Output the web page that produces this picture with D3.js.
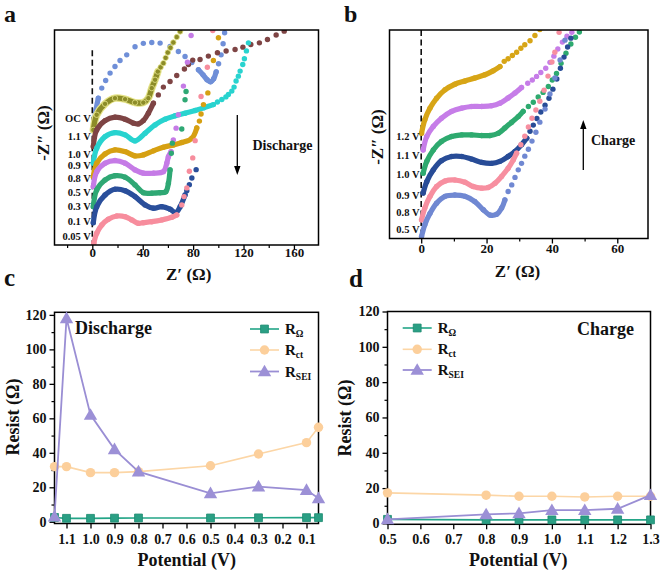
<!DOCTYPE html>
<html><head><meta charset="utf-8">
<script src="https://cdn.jsdelivr.net/npm/d3@7"></script>
<style>
body{margin:0;background:#fff;}
svg{display:block;}
text{font-family:"Liberation Serif","Times New Roman",serif;font-weight:bold;fill:#111;}
</style>
</head><body>
<svg id="fig" width="661" height="574"></svg>
<script>
// ---------------- DATA ----------------
// Panel a : Nyquist plots during discharge (Z', -Z'' in ohm, curves offset vertically)
const labelsA = ["OC V","1.1 V","1.0 V","0.9 V","0.8 V","0.5 V","0.3 V","0.1 V","0.05 V"];
const aOC_arc1 = [[1.6,96.7],[2.9,107.2],[4.8,116.5]];
const aOC_dots1 = [[7.5,124.5],[10.6,130.5],[14.1,136.4],[18.0,141.6],[22.0,146.4],[27.3,150.9],[33.9,157.3],[40.5,160.0],[47.2,160.7],[53.8,160.2],[61.7,157.5],[68.3,153.5],[73.6,149.6],[79.0,144.8]];
const aOC_arc2 = [[84.2,139.0],[87.9,135.0],[91.1,131.1],[93.9,129.5],[96.3,131.9],[98.3,137.4]];
const aOC_dots2 = [[100.2,143.8],[102.2,150.9],[103.8,159.7],[105.0,168.4]];
const a11_arc = [[0.8,91.3],[3.5,103.3],[10.1,112.0],[18.0,116.5],[26.0,115.7],[33.9,113.0],[40.5,113.0],[44.5,116.5],[47.2,124.5],[49.8,131.1],[52.0,137.6]];
const a11_dots = [[54.2,141.0],[56.4,144.3],[58.2,148.5],[59.9,152.7],[62.0,156.5],[64.3,160.7],[67.0,165.0],[69.7,169.4]];
const a10_arc = [[0.8,78.1],[3.5,91.3],[10.1,98.7],[18.0,101.4],[26.0,99.8],[32.6,96.7],[36.5,96.1],[40.5,98.7],[44.5,104.6],[48.5,112.5]];
const a10_dots = [[52.4,119.1],[56.4,125.3],[61.7,129.7],[67.0,134.5],[73.1,139.6],[76.3,143.2],[79.7,146.7],[85.5,147.2],[92.1,149.9],[99.3,152.5],[106.2,153.9],[113.3,155.1],[119.5,157.0],[125.8,159.1],[132.6,160.4],[139.0,163.1],[145.9,166.6],[152.3,169.7]];
const a09_arc = [[0.8,64.9],[3.5,76.8],[10.1,86.0],[18.0,89.2],[26.0,87.4],[33.9,82.6],[41.9,88.7],[49.8,95.3],[57.8,99.8],[65.7,102.5],[73.6,104.6],[81.6,106.7],[88.2,108.8],[96.1,111.4]];
const a09_dots = [[99.3,113.5],[102.8,115.4],[106.0,117.5],[108.0,119.4],[110.7,122.1],[112.5,125.3],[114.1,130.1],[115.9,134.0],[117.3,138.0],[119.4,143.2],[120.7,147.8],[122.3,154.0],[123.9,160.4]];
const a08_arc = [[0.8,54.2],[3.5,64.9],[10.1,72.3],[18.0,75.5],[26.0,74.1],[33.9,70.7],[40.5,71.5],[48.5,74.7],[56.4,77.6],[64.3,79.4],[71.0,81.3],[79.0,84.7],[82.9,92.9]];
const a08_dots = [[85.0,98.3],[86.3,104.0],[88.2,111.4],[91.7,120.7],[96.1,146.4],[100.1,164.4]];
const a05_arc = [[0.8,46.3],[3.5,58.2],[10.1,64.9],[18.0,67.0],[26.0,64.9],[33.9,59.6],[40.5,57.0],[48.5,57.0],[56.4,58.2],[59.1,64.9],[60.4,70.1],[62.5,74.1]];
const a05_dots = [[64.3,83.4],[66.5,92.7],[68.3,103.3],[72.3,126.1],[75.5,145.1],[78.4,166.2]];
const a03_arc = [[0.8,30.4],[3.5,43.7],[10.1,51.6],[18.0,55.0],[26.0,53.8],[33.9,47.7],[40.5,41.5],[47.2,41.1],[53.8,41.5],[58.3,42.3],[60.4,49.0],[61.7,59.6]];
const a03_dots = [[62.7,72.8],[63.5,80.8],[71.0,92.1],[73.6,115.2],[74.4,121.8]];
const a01_arc = [[0.8,17.7],[3.5,30.4],[10.1,39.7],[18.0,44.2],[26.0,43.1],[33.9,38.4],[41.9,31.8],[48.5,29.2],[55.1,30.4],[61.7,28.4],[66.2,25.7],[69.7,30.4],[73.6,39.7]];
const a01_dots = [[75.0,43.0],[77.0,47.9],[79.0,53.2],[82.4,59.8]];
const a005_arc = [[1.2,1.4],[3.5,9.3],[7.5,15.9],[12.7,20.4],[19.4,23.0],[26.0,22.5],[31.3,19.9],[36.5,17.2],[40.5,17.7],[47.2,18.5],[55.1,19.9],[63.1,22.0],[67.0,23.8]];
const a005_dots = [[71.0,31.8],[72.8,38.4],[75.0,45.3],[77.0,58.5],[79.7,69.1],[81.6,82.8],[86.3,117.8],[91.3,141.1],[95.6,170.2]];

// Panel b : Nyquist plots during charge
const labelsB = ["1.2 V","1.1 V","1.0 V","0.9 V","0.8 V","0.5 V"];
const b12_arc = [[0.1,32.2],[1.1,36.3],[2.7,39.9],[4.7,42.9],[7.3,45.5],[10.3,47.2],[13.4,48.2],[16.4,49.1],[19.5,50.1],[22.0,51.3],[24.1,52.6]];
const b12_dots = [[25.4,54.2],[26.6,55.0],[27.9,56.0],[29.2,57.0],[30.5,58.2],[31.7,59.3],[33.3,60.5],[34.8,62.1],[36.3,63.9]];
const b11_arc = [[0.6,27.1],[1.7,31.2],[3.7,34.3],[6.2,36.8],[9.3,38.9],[12.4,39.9],[15.4,40.4],[18.5,40.4],[21.5,40.6],[24.1,41.4],[26.6,43.0],[28.7,44.5],[30.7,46.2]];
const b11_dots = [[32.6,47.5],[34.0,48.5],[35.3,49.6],[36.6,50.8],[38.1,52.1],[39.4,53.9],[40.6,55.8],[41.8,58.0],[43.2,60.1],[44.6,61.9],[46.1,63.1]];
const b10_arc = [[0.6,20.0],[1.7,23.6],[3.7,27.1],[6.2,29.7],[9.3,31.2],[12.4,31.7],[15.4,31.7],[18.5,31.5],[21.0,31.5],[23.6,32.2],[25.6,33.8],[27.7,35.6],[29.7,37.3],[31.2,38.9]];
const b10_dots = [[32.8,40.4],[34.3,41.7],[35.8,43.3],[37.3,44.7],[38.9,46.5],[40.1,48.5],[41.4,50.5],[42.8,53.6],[44.3,56.7],[45.8,59.5],[47.2,61.6],[48.4,63.2]];
const b09_arc = [[0.6,13.9],[1.7,17.4],[3.7,21.0],[6.2,23.8],[9.3,25.1],[12.4,25.1],[15.4,24.3],[18.5,23.3],[21.5,23.0],[24.1,23.6],[26.6,25.1],[28.7,26.6],[30.7,28.7],[32.3,30.7]];
const b09_dots = [[33.3,32.8],[34.3,34.7],[35.4,36.7],[36.6,38.7],[37.9,40.8],[39.1,42.9],[40.3,45.7],[41.5,48.8],[42.6,52.1],[43.7,55.5],[44.8,58.6],[45.8,61.3]];
const b08_arc = [[0.1,5.7],[1.1,9.3],[2.7,12.9],[4.7,15.9],[7.3,17.6],[10.3,17.9],[13.4,17.2],[15.9,15.9],[18.5,15.4],[20.5,15.6],[22.6,16.9],[24.6,19.0],[26.6,21.5],[28.2,24.1],[29.2,26.1]];
const b08_dots = [[30.5,28.7],[31.7,31.3],[32.8,34.1],[33.9,36.8],[35.1,39.3],[36.3,42.0],[37.6,45.4],[38.8,49.7],[40.0,54.0],[40.9,57.0],[42.2,63.1]];
const b05_arc = [[0.1,0.6],[1.1,4.2],[2.7,7.7],[4.7,10.8],[7.3,12.9],[10.3,13.3],[13.4,12.9],[16.4,11.3],[19.0,8.8],[21.0,7.2],[23.1,7.4],[24.6,9.3],[25.6,11.8]];
const b05_dots = [[26.6,14.4],[27.7,16.4],[28.7,18.7],[29.7,21.0],[30.7,23.0],[31.7,25.2],[32.8,27.3],[33.9,29.8],[35.1,32.5],[36.3,35.6],[37.9,39.6],[39.4,44.2],[40.9,49.1],[42.5,54.6],[44.0,60.7]];

// Panel c : fitted resistances, discharge (first point = OC, drawn at 1.15 V)
const potC = [1.15,1.1,1.0,0.9,0.8,0.5,0.3,0.1,0.05];
const rOhmC = [2.5,2.0,2.0,2.1,2.2,2.2,2.3,2.4,2.4];
const rCtC  = [32.0,32.0,28.5,28.5,29.1,32.5,39.3,45.9,54.8];
const rSeiC = [3.0,118.0,62.0,42.0,29.1,16.5,20.4,18.4,13.6];
const ticksC = [1.1,1.0,0.9,0.8,0.7,0.6,0.5,0.4,0.3,0.2,0.1];

// Panel d : fitted resistances, charge
const potD = [0.5,0.8,0.9,1.0,1.1,1.2,1.3];
const rOhmD = [2.3,2.0,2.0,2.0,2.0,2.0,2.0];
const rCtD  = [17.3,16.0,15.4,15.4,15.0,15.4,15.4];
const rSeiD = [2.3,5.1,5.7,7.5,7.5,8.3,16.0];
const ticksD = [0.5,0.6,0.7,0.8,0.9,1.0,1.1,1.2,1.3];

const ticksR = [0,20,40,60,80,100,120];
const minorR = [10,30,50,70,90,110];
const ticksZA = [0,40,80,120,160], minorZA = [-20,20,60,100,140];
const ticksZB = [0,20,40,60], minorZB = [10,30,50];

// ---------------- DRAW ----------------
const svg = d3.select("#fig");
const defs = svg.append("defs");
const SERIF = '"Liberation Serif","Times New Roman",serif';

function clip(id, x0, y0, x1, y1){
  defs.append("clipPath").attr("id", id).append("rect")
    .attr("x", x0).attr("y", y0).attr("width", x1 - x0).attr("height", y1 - y0);
}

function bottomAxis(x, y0, major, minor, fmt, fs, base){
  const g = svg.append("g").attr("transform", `translate(0,${y0})`);
  g.call(d3.axisBottom(x).tickValues(major).tickSize(5).tickFormat(fmt));
  g.select(".domain").remove();
  g.selectAll(".tick line").attr("stroke", "#000").attr("stroke-width", 1.3);
  g.selectAll(".tick text").attr("y", base).attr("dy", 0).attr("fill", "#111")
    .style("font-family", SERIF).style("font-weight", "bold").style("font-size", fs + "px");
  if (minor) {
    const m = svg.append("g").attr("transform", `translate(0,${y0})`);
    m.call(d3.axisBottom(x).tickValues(minor).tickSize(3).tickFormat(""));
    m.select(".domain").remove();
    m.selectAll(".tick line").attr("stroke", "#000").attr("stroke-width", 1.2);
  }
}
function leftAxis(y, x0, major, minor, fs){
  const g = svg.append("g").attr("transform", `translate(${x0},0)`);
  g.call(d3.axisLeft(y).tickValues(major).tickSize(5).tickPadding(3));
  g.select(".domain").remove();
  g.selectAll(".tick line").attr("stroke", "#000").attr("stroke-width", 1.3);
  g.selectAll(".tick text").attr("fill", "#111")
    .style("font-family", SERIF).style("font-weight", "bold").style("font-size", fs + "px");
  const m = svg.append("g").attr("transform", `translate(${x0},0)`);
  m.call(d3.axisLeft(y).tickValues(minor).tickSize(3).tickFormat(""));
  m.select(".domain").remove();
  m.selectAll(".tick line").attr("stroke", "#000").attr("stroke-width", 1.2);
}
function box(x0, y0, x1, y1){
  svg.append("rect").attr("x", x0).attr("y", y0).attr("width", x1 - x0).attr("height", y1 - y0)
    .attr("fill", "none").attr("stroke", "#000").attr("stroke-width", 1.5);
}
function txt(x, y, s, fs, anchor, rot){
  const t = svg.append("text").attr("x", x).attr("y", y).attr("font-size", fs)
    .attr("text-anchor", anchor || "start").text(s);
  if (rot) t.attr("transform", `rotate(${rot},${x},${y})`);
  return t;
}
function arrow(x, y1, y2){
  svg.append("line").attr("x1", x).attr("x2", x).attr("y1", y1)
    .attr("y2", y2 + (y2 > y1 ? -7 : 7)).attr("stroke", "#000").attr("stroke-width", 1.3);
  const d = y2 > y1 ? -1 : 1;
  svg.append("path").attr("d", `M${x-3.2},${y2 + d*9} L${x+3.2},${y2 + d*9} L${x},${y2} Z`).attr("fill", "#000");
}

function nyquist(xs, ys, clipId, series){
  const g = svg.append("g").attr("clip-path", `url(#${clipId})`);
  const line = d3.line().x(d => xs(d[0])).y(d => ys(d[1])).curve(d3.curveCatmullRom);
  series.forEach(s => {
    s.arcs.forEach(seg => {
      if (s.halo) g.append("path").datum(seg).attr("d", line).attr("fill", "none")
        .attr("stroke", s.halo).attr("stroke-width", 7.5).attr("stroke-linecap", "round");
      g.append("path").datum(seg).attr("d", line).attr("fill", "none")
        .attr("stroke", s.color).attr("stroke-width", 5.2).attr("stroke-linecap", "round").attr("stroke-linejoin", "round");
    });
    const pts = [];
    s.arcs.forEach(seg => seg.forEach(p => pts.push(p)));
    s.dots.forEach(p => pts.push(p));
    g.append("g").selectAll("circle").data(pts).join("circle")
      .attr("cx", d => xs(d[0])).attr("cy", d => ys(d[1])).attr("r", 2.7)
      .attr("fill", s.color).attr("stroke", s.halo || "none").attr("stroke-width", s.halo ? 0.8 : 0);
  });
}

// ---- Panel a ----
const A = {x0:54.5, x1:318.5, y0:30, y1:245};
const xA = d3.scaleLinear().domain([-30, 179.5]).range([A.x0, A.x1]);
const yA = d3.scaleLinear().domain([0, 170.6]).range([A.y1, A.y0]);
clip("clipA", A.x0, A.y0, A.x1, A.y1);
svg.append("line").attr("x1", xA(0)).attr("x2", xA(0)).attr("y1", yA(154.5)).attr("y2", yA(0))
  .attr("stroke", "#111").attr("stroke-width", 1.6).attr("stroke-dasharray", "6,3.5");
const colA = {OC:"#6f8fd8", v11:"#8c8c28", v10:"#7e4444", v09:"#28d3cf", v08:"#d6a012", v05:"#c57be6", v03:"#2fa874", v01:"#2a4f9b", v005:"#f78d9d"};
nyquist(xA, yA, "clipA", [
  {color:colA.OC, arcs:[aOC_arc1, aOC_arc2], dots:aOC_dots1.concat(aOC_dots2)},
  {color:colA.v11, halo:"#e6e48a", arcs:[a11_arc], dots:a11_dots},
  {color:colA.v10, arcs:[a10_arc], dots:a10_dots},
  {color:colA.v09, arcs:[a09_arc], dots:a09_dots},
  {color:colA.v08, arcs:[a08_arc], dots:a08_dots},
  {color:colA.v05, arcs:[a05_arc], dots:a05_dots},
  {color:colA.v03, arcs:[a03_arc], dots:a03_dots},
  {color:colA.v01, arcs:[a01_arc], dots:a01_dots},
  {color:colA.v005, arcs:[a005_arc], dots:a005_dots}
]);
box(A.x0, A.y0, A.x1, A.y1);
bottomAxis(xA, A.y1, ticksZA, minorZA, d3.format("d"), 13, 12);
const labYA = [121.8, 139.5, 157.8, 168.5, 181.8, 195.8, 210.2, 224.5, 240.2];
labelsA.forEach((s, i) => txt(90.8, labYA[i], s, 10.5, "end"));
txt(43, 133, "-Z\u2033 (\u03A9)", 17, "middle", -90).attr("dy", "0.35em");
txt(188.7, 280, "Z\u2032 (\u03A9)", 17, "middle");
arrow(237.3, 115, 175);
txt(252.5, 150, "Discharge", 14);

// ---- Panel b ----
const B = {x0:389.5, x1:648, y0:30, y1:238.5};
const xB = d3.scaleLinear().domain([-9.7, 69.4]).range([B.x0, B.x1]);
const yB = d3.scaleLinear().domain([0, 63.8]).range([B.y1, B.y0]);
clip("clipB", B.x0, B.y0, B.x1, B.y1);
svg.append("line").attr("x1", xB(0)).attr("x2", xB(0)).attr("y1", yB(63.8)).attr("y2", yB(0))
  .attr("stroke", "#111").attr("stroke-width", 1.6).attr("stroke-dasharray", "6,3.5");
nyquist(xB, yB, "clipB", [
  {color:"#d7a516", arcs:[b12_arc], dots:b12_dots},
  {color:"#c67de8", arcs:[b11_arc], dots:b11_dots},
  {color:"#2eaa6f", arcs:[b10_arc], dots:b10_dots},
  {color:"#284c97", arcs:[b09_arc], dots:b09_dots},
  {color:"#f78fa0", arcs:[b08_arc], dots:b08_dots},
  {color:"#7088d2", arcs:[b05_arc], dots:b05_dots}
]);
box(B.x0, B.y0, B.x1, B.y1);
bottomAxis(xB, B.y1, ticksZB, minorZB, d3.format("d"), 13, 14.5);
const labYB = [139.5, 159.2, 177.5, 199.2, 215.8, 232.5];
labelsB.forEach((s, i) => txt(419.5, labYB[i], s, 10.5, "end"));
txt(377, 137, "-Z\u2033 (\u03A9)", 17, "middle", -90).attr("dy", "0.35em");
txt(517.5, 277, "Z\u2032 (\u03A9)", 17, "middle");
arrow(583.3, 170, 120);
txt(591, 144.5, "Charge", 14);

// ---- Resistance panels ----
function resPanel(P, xd, yd, pot, rO, rC, rS, ticks, legX, legY, title, titleX, titleY){
  const x = d3.scaleLinear().domain(xd).range([P.x0, P.x1]);
  const y = d3.scaleLinear().domain(yd).range([P.y1, P.y0]);
  box(P.x0, P.y0, P.x1, P.y1);
  bottomAxis(x, P.y1, ticks, null, d3.format(".1f"), 14, 20);
  leftAxis(y, P.x0, ticksR, minorR, 14);
  const styles = [
    {vals:rO, line:"#23a587", fill:"#2a9f84", stroke:"#1c8a70", sym:d3.symbolSquare, size:62, w:1.6},
    {vals:rC, line:"#fcd6a6", fill:"#fccf9b", stroke:"none", sym:d3.symbolCircle, size:70, w:1.6},
    {vals:rS, line:"#9a8ed4", fill:"#9c90d6", stroke:"none", sym:d3.symbolTriangle, size:78, w:1.8}
  ];
  const line = d3.line().x(d => x(d[0])).y(d => y(d[1]));
  styles.forEach(s => {
    const pts = pot.map((p, i) => [p, s.vals[i]]);
    svg.append("path").datum(pts).attr("d", line).attr("fill", "none")
      .attr("stroke", s.line).attr("stroke-width", s.w);
    svg.append("g").selectAll("path").data(pts).join("path")
      .attr("d", d3.symbol().type(s.sym).size(s.size))
      .attr("transform", d => `translate(${x(d[0])},${y(d[1]) + (s.sym === d3.symbolTriangle ? 1 : 0)})`)
      .attr("fill", s.fill).attr("stroke", s.stroke).attr("stroke-width", 0.8);
  });
  const subs = ["\u03A9", "ct", "SEI"];
  styles.forEach((s, i) => {
    const ly = legY[i];
    svg.append("line").attr("x1", legX).attr("x2", legX + 29).attr("y1", ly).attr("y2", ly)
      .attr("stroke", s.line).attr("stroke-width", s.w);
    svg.append("path").attr("d", d3.symbol().type(s.sym).size(s.size))
      .attr("transform", `translate(${legX + 14.5},${ly + (s.sym === d3.symbolTriangle ? 1 : 0)})`)
      .attr("fill", s.fill).attr("stroke", s.stroke).attr("stroke-width", 0.8);
    const t = svg.append("text").attr("x", legX + 35).attr("y", ly + 5).attr("font-size", 15);
    t.append("tspan").text("R");
    t.append("tspan").attr("font-size", 9.5).attr("dy", 3).text(subs[i]);
  });
  txt(titleX, titleY, title, 18);
}
const C = {x0:54.5, x1:318.5, y0:312.3, y1:523.5};
resPanel(C, [1.15, 0.05], [-1, 121.5], potC, rOhmC, rCtC, rSeiC, ticksC, 250, [329, 350, 371.5], "Discharge", 75, 333.5);
const D = {x0:387.5, x1:650.5, y0:311.5, y1:524.3};
resPanel(D, [0.5, 1.3], [-0.5, 120], potD, rOhmD, rCtD, rSeiD, ticksD, 402.7, [328, 349.3, 370], "Charge", 577, 334.5);

txt(13, 417, "Resist (\u03A9)", 18, "middle", -90).attr("dy", "0.35em");
txt(345, 418, "Resist (\u03A9)", 18, "middle", -90).attr("dy", "0.35em");
txt(186.7, 565.5, "Potential (V)", 18, "middle");
txt(518.3, 565.5, "Potential (V)", 18, "middle");

// panel letters
txt(4, 22, "a", 24);
txt(344, 22, "b", 24);
txt(4, 286, "c", 25);
txt(349, 287, "d", 25);
</script>
</body></html>
